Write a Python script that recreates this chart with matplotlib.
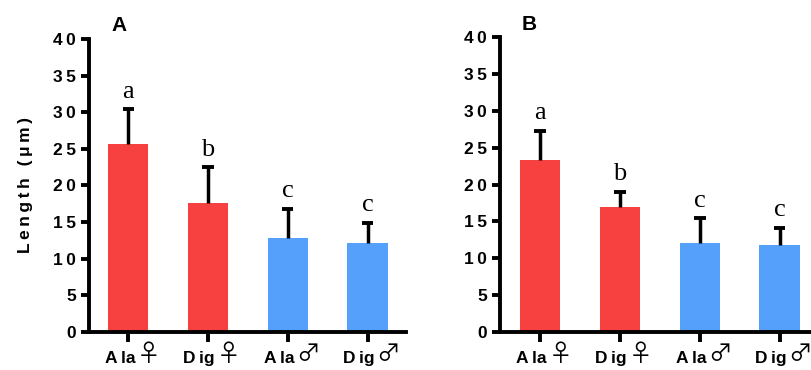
import matplotlib
matplotlib.use("Agg")
import matplotlib.pyplot as plt
import matplotlib.transforms as mtransforms

# data
species = ["Ala", "Dig", "Ala", "Dig"]
sexes = ["\u2640", "\u2640", "\u2642", "\u2642"]
mean_a = [25.6, 17.6, 12.8, 12.1]
err_a = [4.8, 4.9, 4.0, 2.8]
mean_b = [23.3, 17.0, 12.1, 11.8]
err_b = [4.0, 2.0, 3.3, 2.3]
letters = ["a", "b", "c", "c"]
colors = ["#F74141", "#F74141", "#55A0FA", "#55A0FA"]

plt.rcParams["font.family"] = ["Liberation Sans", "DejaVu Sans"]
TS = "\u2009"


def spaced(s):
    return TS.join(s)


fig = plt.figure(figsize=(8.12, 3.7), dpi=100)
ax_a = fig.add_axes([0.1096, 0.1027, 0.390, 0.792])
ax_b = fig.add_axes([0.6158, 0.1027, 0.384, 0.797])


def panel(ax, means, errs, title, xlim, ylabel=None):
    x = list(range(len(means)))
    ax.bar(x, means, width=0.51, color=colors, zorder=2)
    tops = [m + e for m, e in zip(means, errs)]
    ax.vlines(x, means, tops, color="black", lw=2.5, zorder=3)
    ax.hlines(tops, [xi - 0.07 for xi in x], [xi + 0.07 for xi in x],
              color="black", lw=2.8, zorder=3)
    for xi, t, lt in zip(x, tops, letters):
        ax.text(xi, t + 0.9, lt, ha="center", va="bottom", fontsize=19,
                family="Liberation Serif")
    ax.set_xlim(*xlim)
    ax.set_ylim(0, 40)
    ticks = list(range(0, 41, 5))
    ax.set_yticks(ticks)
    ax.set_yticklabels([spaced(str(t)) for t in ticks], fontsize=12.5,
                       fontweight="bold")
    ax.set_xticks(x)
    ax.set_xticklabels([])
    trans = mtransforms.blended_transform_factory(ax.transData, ax.transAxes)
    for xi, sp, sx in zip(x, species, sexes):
        ax.annotate(sp[0] + TS + sp[1:], (xi, 0), xycoords=trans,
                    xytext=(5, -14), textcoords="offset points",
                    ha="right", va="top", fontsize=12.5, fontweight="bold")
        ax.annotate(sx, (xi, 0), xycoords=trans,
                    xytext=(6, -8), textcoords="offset points",
                    ha="left", va="top", fontsize=17,
                    family=["Noto Sans CJK JP", "DejaVu Sans"])
    ax.spines["top"].set_visible(False)
    ax.spines["right"].set_visible(False)
    for s in ("left", "bottom"):
        ax.spines[s].set_linewidth(2.8)
    ax.tick_params(axis="both", width=2.8, length=6, direction="out")
    ax.tick_params(axis="x", length=7)
    ax.text(0.07, 1.012, title, transform=ax.transAxes, fontsize=15,
            fontweight="bold", va="bottom")
    if ylabel:
        ax.set_ylabel(spaced(ylabel), fontsize=12.5, fontweight="bold",
                      labelpad=14)


panel(ax_a, mean_a, err_a, "A", (-0.49, 3.475), ylabel="Length (\u03bcm)")
panel(ax_b, mean_b, err_b, "B", (-0.5, 3.4))

fig.savefig("out.png", dpi=100)
